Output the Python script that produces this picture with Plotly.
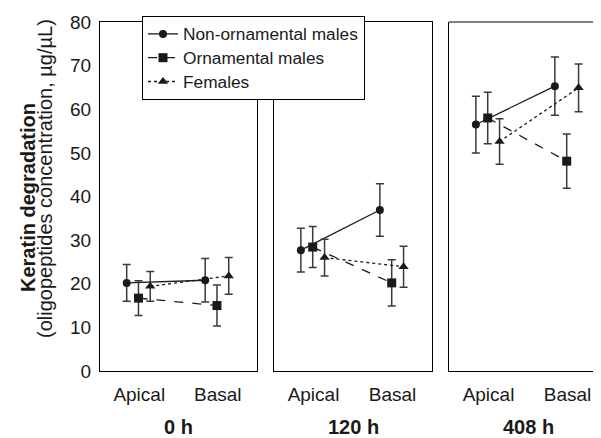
import plotly.graph_objects as go

categories = ["Apical", "Basal"]
times = ["0 h", "120 h", "408 h"]
series_names = ["Non-ornamental males", "Ornamental males", "Females"]

nonorn_mean = [[20.2, 20.8], [27.7, 36.9], [56.5, 65.3]]
nonorn_err = [[4.2, 5.0], [5.0, 6.0], [6.5, 6.7]]
orn_mean = [[16.7, 15.0], [28.4, 20.2], [58.0, 48.1]]
orn_err = [[4.0, 4.7], [4.7, 5.3], [5.9, 6.2]]
fem_mean = [[19.4, 21.8], [26.0, 23.9], [52.6, 64.9]]
fem_err = [[3.4, 4.2], [4.2, 4.7], [5.2, 5.5]]

means = [nonorn_mean, orn_mean, fem_mean]
errs = [nonorn_err, orn_err, fem_err]

offsets = [-0.16, -0.01, 0.14]
symbols = ["circle", "square", "triangle-up"]
sizes = [8, 9, 9]
dashes = ["solid", "dash", "dot"]

FONT = "Liberation Sans, Arial, sans-serif"
INK = "#1a1a1a"

# page body has an 8px margin; the figure is sized so that it fills the 601x438 window
W, H = 593, 430
ML, MT, MB, MR = 92, 14, 67, 0
PW = W - ML - MR
PH = H - MT - MB

fig = go.Figure()
for p in range(3):
    xa = "x" if p == 0 else f"x{p+1}"
    ya = "y" if p == 0 else f"y{p+1}"
    for s in range(3):
        fig.add_trace(go.Scatter(
            x=[1 + offsets[s], 2 + offsets[s]],
            y=means[s][p],
            error_y=dict(type="data", array=errs[s][p], visible=True,
                         color="#3a3a3a", thickness=1.5, width=4),
            mode="lines+markers",
            name=f'<span style="font-size:17.3px">{series_names[s]}</span>',
            legendgroup=series_names[s],
            showlegend=(p == 0),
            line=dict(color=INK, width=1.3, dash=dashes[s]),
            marker=dict(symbol=symbols[s], size=sizes[s], color=INK),
            xaxis=xa, yaxis=ya,
        ))

domains = [[0, 157 / PW], [174 / PW, 332 / PW], [349 / PW, 1.0]]
xranges = [[0.5, 2.5], [0.5, 2.5], [0.5, 0.5 + (PW - 349) / 79]]

layout = dict(
    width=W, height=H,
    margin=dict(l=ML, r=MR, t=MT, b=MB),
    paper_bgcolor="white", plot_bgcolor="white",
    font=dict(family=FONT, color=INK),
    showlegend=True,
    legend=dict(x=42 / PW, y=1 + 6 / PH, xanchor="left", yanchor="top",
                bgcolor="white", bordercolor="black", borderwidth=1,
                font=dict(size=16, family=FONT, color=INK),
                tracegroupgap=0, itemwidth=30),
)

for p in range(3):
    key = "xaxis" if p == 0 else f"xaxis{p+1}"
    ykey = "yaxis" if p == 0 else f"yaxis{p+1}"
    mirror = p < 2
    layout[key] = dict(
        domain=domains[p], range=xranges[p], tickvals=[1, 2], ticktext=categories,
        showgrid=False, zeroline=False, showline=True, linecolor="black", linewidth=1,
        mirror=mirror, ticks="", tickfont=dict(size=19, family=FONT, color=INK),
        ticklabelstandoff=6, anchor="y" if p == 0 else f"y{p+1}",
    )
    layout[ykey] = dict(
        range=[0, 80], dtick=10, showgrid=False, zeroline=False,
        showline=True, linecolor="black", linewidth=1, mirror=mirror, ticks="",
        showticklabels=(p == 0), tickfont=dict(size=19, family=FONT, color=INK),
        ticklabelstandoff=4, anchor="x" if p == 0 else f"x{p+1}",
    )

fig.update_layout(**layout)

fig.add_shape(type="line", xref="x3 domain", yref="y3 domain",
              x0=0, x1=1, y0=1, y1=1, line=dict(color="black", width=1))

# group labels, centred under each panel (panel 3 extends past the window edge)
centers_px = [78.5, 253, 428]
for p in range(3):
    fig.add_annotation(x=centers_px[p] / PW, y=-(427 - 371) / PH, xref="paper", yref="paper",
                       xanchor="center", yanchor="middle",
                       text=f"<b>{times[p]}</b>", showarrow=False,
                       font=dict(size=20, family=FONT, color=INK))

fig.add_annotation(x=(28 - 100) / PW, y=(371 - 198) / PH, xref="paper", yref="paper",
                   xanchor="center", yanchor="middle",
                   text="<b>Keratin degradation</b>", textangle=-90, showarrow=False,
                   font=dict(size=20, family=FONT, color=INK))
fig.add_annotation(x=(45 - 100) / PW, y=(371 - 179) / PH, xref="paper", yref="paper",
                   xanchor="center", yanchor="middle",
                   text="(oligopeptides concentration, µg/µL)", textangle=-90, showarrow=False,
                   font=dict(size=20, family=FONT, color=INK))

fig.write_html("out.html")
